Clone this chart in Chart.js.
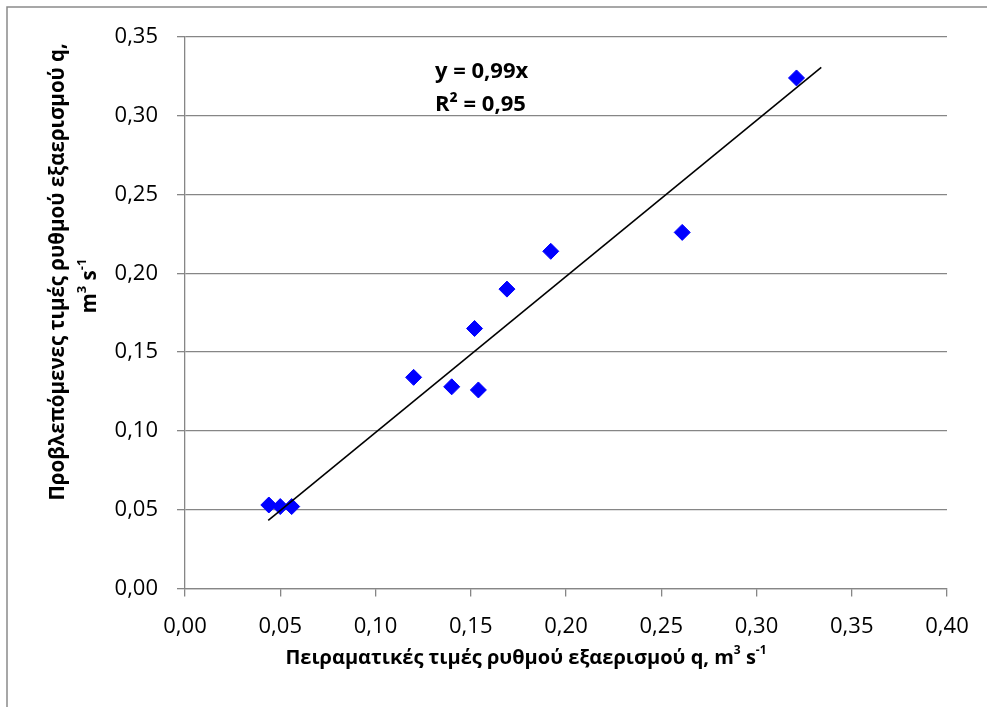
<!DOCTYPE html>
<html>
<head>
<meta charset="utf-8">
<script src="https://cdn.jsdelivr.net/npm/chart.js@4/dist/chart.umd.min.js"></script>
<style>
  html, body { margin: 0; padding: 0; background: #fff; }
  #wrap { width: 987px; height: 707px; }
</style>
</head>
<body>
<div id="wrap"><canvas id="myChart" width="987" height="707"></canvas></div>
<script>
// Measured vs predicted ventilation rate q (m3/s)
var measuredQ = [0.044, 0.050, 0.056, 0.120, 0.140, 0.154, 0.152, 0.169, 0.192, 0.261, 0.321];
var predictedQ = [0.053, 0.052, 0.052, 0.134, 0.128, 0.126, 0.165, 0.190, 0.214, 0.226, 0.324];

// Linear trend through origin (y = 0,99x, R² = 0,95)
var trendSlope = 0.99;
var trendR2 = 0.95;
var trendX = [0.0437, 0.334];

var xTicks = [0, 0.05, 0.10, 0.15, 0.20, 0.25, 0.30, 0.35, 0.40];
var yTicks = [0, 0.05, 0.10, 0.15, 0.20, 0.25, 0.30, 0.35];

// Axis titles, split so the unit exponents can be raised
var xTitle = [["Πειραματικές τιμές ρυθμού εξαερισμού q, m"], ["3", 1], [" s"], ["-1", 1]];
var yTitle1 = [["Προβλεπόμενες τιμές ρυθμού εξαερισμού q,"]];
var yTitle2 = [["m"], ["3", 1], [" s"], ["-1", 1]];

var gridGray = "#868686";
var font = "'Open Sans', 'DejaVu Sans', sans-serif";

function comma(v, d) {
    return v.toFixed(d).replace(".", ",");
}

var points = measuredQ.map(function (x, i) { return { x: x, y: predictedQ[i] }; });
var trend = trendX.map(function (x) { return { x: x, y: trendSlope * x }; });

// draws text parts centred on (0,0); parts flagged 1 are superscripts
function drawRich(c, parts, size) {
    var supSize = Math.round(size * 0.62);
    var total = 0;
    parts.forEach(function (p) {
        c.font = "bold " + (p[1] ? supSize : size) + "px " + font;
        p.w = c.measureText(p[0]).width;
        total += p.w;
    });
    var x = -total / 2;
    parts.forEach(function (p) {
        c.font = "bold " + (p[1] ? supSize : size) + "px " + font;
        c.fillText(p[0], x, p[1] ? -size * 0.38 : 0);
        x += p.w;
    });
}

// Outer frame (left and top edges visible)
var framePlugin = {
    id: "frame",
    beforeDraw: function (chart) {
        var c = chart.ctx;
        c.save();
        c.fillStyle = "#fff";
        c.fillRect(0, 0, chart.width, chart.height);
        c.strokeStyle = "#8a8a8a";
        c.lineWidth = 1.5;
        c.beginPath();
        c.moveTo(7, chart.height + 2);
        c.lineTo(7, 7);
        c.lineTo(chart.width + 2, 7);
        c.stroke();
        c.restore();
    }
};

// Axis titles and trend equation
var labelsPlugin = {
    id: "labels",
    afterDatasetsDraw: function (chart) {
        var c = chart.ctx;
        var xs = chart.scales.x, ys = chart.scales.y;
        var area = chart.chartArea;
        c.save();
        c.fillStyle = "#000";
        c.textAlign = "left";
        c.textBaseline = "middle";

        // equation
        var px = xs.getPixelForValue(0.1312);
        c.font = "bold 22px " + font;
        c.fillText("y = " + comma(trendSlope, 2) + "x", px, ys.getPixelForValue(0.328));
        c.fillText("R² = " + comma(trendR2, 2), px, ys.getPixelForValue(0.307));

        // x title
        c.save();
        c.translate((area.left + area.right) / 2 - 40, chart.height - 49);
        drawRich(c, xTitle, 20);
        c.restore();

        // y title, two lines
        c.save();
        c.translate(58, ys.getPixelForValue(0.201));
        c.rotate(-Math.PI / 2);
        drawRich(c, yTitle1, 20.5);
        c.restore();
        c.save();
        c.translate(90, ys.getPixelForValue(0.192));
        c.rotate(-Math.PI / 2);
        drawRich(c, yTitle2, 20.5);
        c.restore();

        c.restore();
    }
};

var ctx = document.getElementById("myChart").getContext("2d");
var myChart = new Chart(ctx, {
    type: "scatter",
    data: {
        datasets: [
            {
                label: "q",
                data: points,
                pointStyle: "rectRot",
                pointRadius: 8,
                pointHoverRadius: 8,
                backgroundColor: "#0000ff",
                borderColor: "#0000ff",
                borderWidth: 1,
                order: 2
            },
            {
                type: "line",
                label: "trend",
                data: trend,
                borderColor: "#000",
                borderWidth: 1.6,
                pointRadius: 0,
                fill: false,
                order: 1
            }
        ]
    },
    options: {
        responsive: false,
        animation: false,
        layout: { padding: { left: 7, top: 37, right: 40, bottom: 0 } },
        plugins: {
            legend: { display: false },
            tooltip: { enabled: false }
        },
        scales: {
            x: {
                type: "linear",
                min: 0,
                max: 0.4,
                afterBuildTicks: function (s) { s.ticks = xTicks.map(function (v) { return { value: v }; }); },
                afterFit: function (s) { s.height = 118.5; },
                ticks: {
                    color: "#000",
                    padding: 17,
                    font: { family: font, size: 22 },
                    callback: function (v) { return comma(v, 2); }
                },
                grid: { drawOnChartArea: false, drawTicks: true, tickLength: 8, color: gridGray, lineWidth: 1.3 },
                border: { display: true, color: gridGray, width: 1.3 }
            },
            y: {
                type: "linear",
                min: 0,
                max: 0.35,
                afterBuildTicks: function (s) { s.ticks = yTicks.map(function (v) { return { value: v }; }); },
                afterFit: function (s) { s.width = 178; },
                ticks: {
                    color: "#000",
                    padding: 19,
                    font: { family: font, size: 22 },
                    callback: function (v) { return comma(v, 2); }
                },
                grid: { drawTicks: true, tickLength: 8, color: gridGray, lineWidth: 1.3 },
                border: { display: true, color: gridGray, width: 1.3 }
            }
        }
    },
    plugins: [framePlugin, labelsPlugin]
});
</script>
</body>
</html>
